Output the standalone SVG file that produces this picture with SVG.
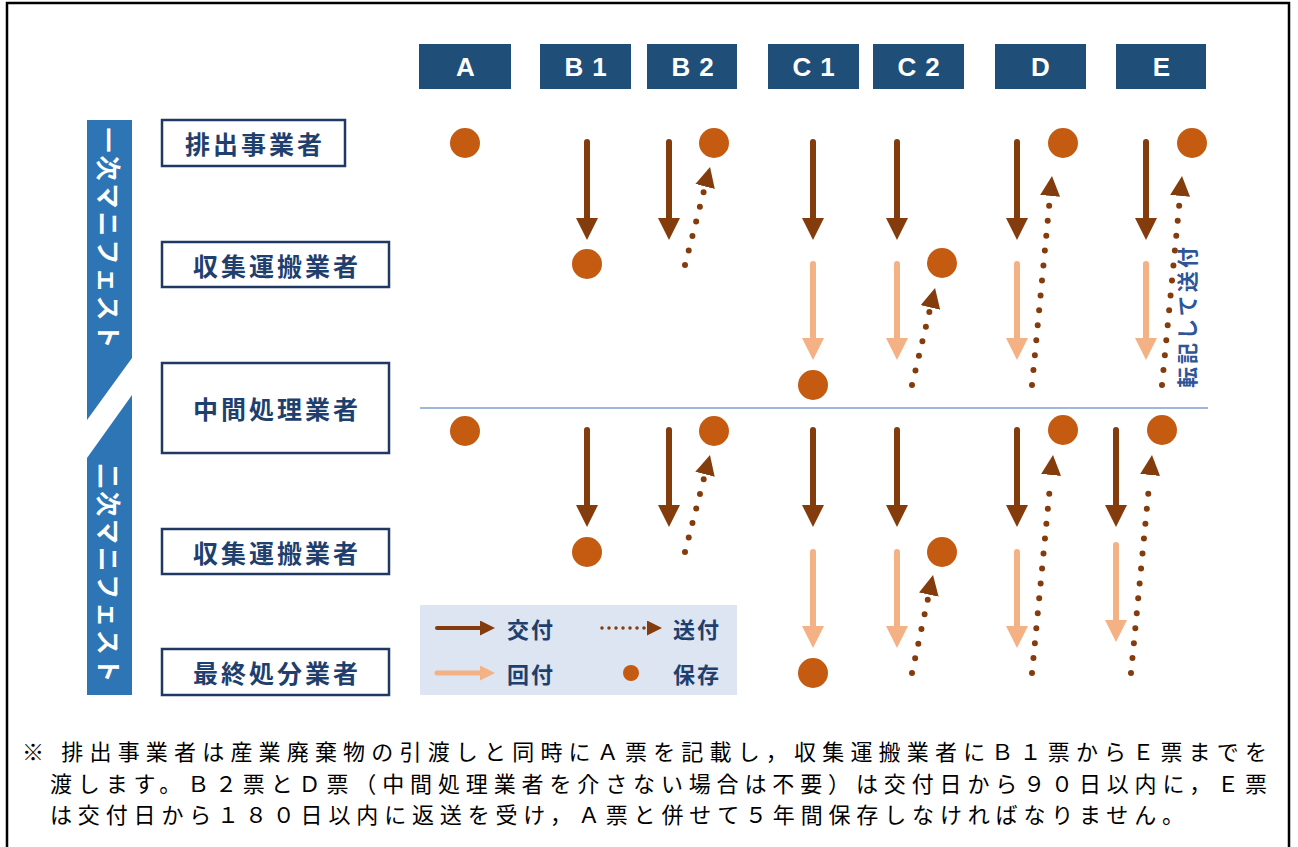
<svg xmlns="http://www.w3.org/2000/svg" width="1298" height="847" viewBox="0 0 1298 847">
<style>
.hdr{fill:#1f4e79}
.hdrt{fill:#fff;font-family:"Liberation Sans","Noto Sans CJK JP",sans-serif;font-weight:bold;font-size:26px;letter-spacing:9px}
.box{fill:#fff;stroke:#1f3864;stroke-width:2.5}
.lbl{fill:#1f3f6e;font-family:"Noto Sans CJK JP",sans-serif;font-weight:bold;font-size:25px;letter-spacing:3px}
.bar{fill:#2e75b6}
.bart{fill:#fff;font-family:"Noto Sans CJK JP",sans-serif;font-weight:bold;font-size:25px}
.dot{fill:#c55a11}
.give{stroke:#843c0c;stroke-width:6;stroke-linecap:round;fill:none}
.ret{stroke:#f4b183;stroke-width:6;stroke-linecap:round;fill:none}
.send{stroke:#843c0c;stroke-width:6;stroke-linecap:round;stroke-dasharray:0 15;fill:none}
.leg{fill:#1f3f6e;font-family:"Noto Sans CJK JP",sans-serif;font-weight:bold;font-size:22px;letter-spacing:2px}
.note{fill:#000;font-family:"Noto Sans CJK JP",sans-serif;font-size:22px}
</style>
<defs>
<marker id="mGive" markerUnits="userSpaceOnUse" viewBox="0 0 22 22" markerWidth="22" markerHeight="22" refX="0" refY="11" orient="auto"><path d="M0,0 L22,11 L0,22 z" fill="#843c0c"/></marker>
<marker id="mRet" markerUnits="userSpaceOnUse" viewBox="0 0 22 22" markerWidth="22" markerHeight="22" refX="0" refY="11" orient="auto"><path d="M0,0 L22,11 L0,22 z" fill="#f4b183"/></marker>
<marker id="mSend" markerUnits="userSpaceOnUse" viewBox="0 0 20 20" markerWidth="20" markerHeight="20" refX="-4" refY="10" orient="auto"><path d="M0,0 L20,10 L0,20 z" fill="#843c0c"/></marker>
<marker id="mGiveS" markerUnits="userSpaceOnUse" viewBox="0 0 15 15" markerWidth="15" markerHeight="15" refX="0" refY="7.5" orient="auto"><path d="M0,0 L15,7.5 L0,15 z" fill="#843c0c"/></marker>
<marker id="mRetS" markerUnits="userSpaceOnUse" viewBox="0 0 15 15" markerWidth="15" markerHeight="15" refX="0" refY="7.5" orient="auto"><path d="M0,0 L15,7.5 L0,15 z" fill="#f4b183"/></marker>
<marker id="mSendS" markerUnits="userSpaceOnUse" viewBox="0 0 15 15" markerWidth="15" markerHeight="15" refX="-2" refY="7.5" orient="auto"><path d="M0,0 L15,7.5 L0,15 z" fill="#843c0c"/></marker>
</defs>
<rect x="0" y="0" width="1298" height="847" fill="#fff"/>
<rect x="7" y="3" width="1282" height="860" fill="none" stroke="#000" stroke-width="2.5"/>

<g id="headers">
<g id="hA"><rect class="hdr" x="419" y="44" width="92" height="45"/><text class="hdrt" x="470" y="76" text-anchor="middle">A</text></g>
<g id="hB1"><rect class="hdr" x="540" y="44" width="91" height="45"/><text class="hdrt" x="590" y="76" text-anchor="middle">B1</text></g>
<g id="hB2"><rect class="hdr" x="647" y="44" width="90" height="45"/><text class="hdrt" x="697" y="76" text-anchor="middle">B2</text></g>
<g id="hC1"><rect class="hdr" x="768" y="44" width="91" height="45"/><text class="hdrt" x="818" y="76" text-anchor="middle">C1</text></g>
<g id="hC2"><rect class="hdr" x="873" y="44" width="91" height="45"/><text class="hdrt" x="923" y="76" text-anchor="middle">C2</text></g>
<g id="hD"><rect class="hdr" x="995" y="44" width="91" height="45"/><text class="hdrt" x="1045" y="76" text-anchor="middle">D</text></g>
<g id="hE"><rect class="hdr" x="1116" y="44" width="90" height="45"/><text class="hdrt" x="1166" y="76" text-anchor="middle">E</text></g>
</g>

<g id="bar1"><polygon class="bar" points="87,120 132,120 132,358 87,420"/><text class="bart" transform="translate(110,238) rotate(90)" text-anchor="middle" dominant-baseline="central" textLength="221" lengthAdjust="spacing">一次マニフェスト</text></g>
<g id="bar2"><polygon class="bar" points="132,395 132,695 87,695 87,458"/><text class="bart" transform="translate(110,573) rotate(90)" text-anchor="middle" dominant-baseline="central" textLength="219" lengthAdjust="spacing">二次マニフェスト</text></g>

<g id="r1"><rect class="box" x="162" y="120" width="183" height="46"/><text class="lbl" x="255" y="143" text-anchor="middle" dominant-baseline="central">排出事業者</text></g>
<g id="r2"><rect class="box" x="162" y="242" width="227" height="45"/><text class="lbl" x="277" y="264.5" text-anchor="middle" dominant-baseline="central">収集運搬業者</text></g>
<g id="r3"><rect class="box" x="162" y="363" width="227" height="90"/><text class="lbl" x="277" y="408" text-anchor="middle" dominant-baseline="central">中間処理業者</text></g>
<g id="r4"><rect class="box" x="162" y="529" width="227" height="45"/><text class="lbl" x="277" y="551.5" text-anchor="middle" dominant-baseline="central">収集運搬業者</text></g>
<g id="r5"><rect class="box" x="162" y="649" width="227" height="46"/><text class="lbl" x="277" y="672" text-anchor="middle" dominant-baseline="central">最終処分業者</text></g>

<line id="divider" x1="420" y1="408" x2="1208" y2="408" stroke="#7f9fd0" stroke-width="1.6"/>

<g id="storage">
<circle class="dot" cx="465" cy="143" r="15"/>
<circle class="dot" cx="587" cy="264" r="15"/>
<circle class="dot" cx="714" cy="143" r="15"/>
<circle class="dot" cx="813" cy="385" r="15"/>
<circle class="dot" cx="942" cy="263" r="15"/>
<circle class="dot" cx="1063" cy="143" r="15"/>
<circle class="dot" cx="1192" cy="143" r="15"/>
<circle class="dot" cx="465" cy="431" r="15"/>
<circle class="dot" cx="587" cy="552" r="15"/>
<circle class="dot" cx="714" cy="431" r="15"/>
<circle class="dot" cx="813" cy="673" r="15"/>
<circle class="dot" cx="942" cy="552" r="15"/>
<circle class="dot" cx="1063" cy="430" r="15"/>
<circle class="dot" cx="1162" cy="430" r="15"/>
</g>

<g id="connectors">
<line class="give" x1="587" y1="142" x2="587" y2="218" marker-end="url(#mGive)"/>
<line class="give" x1="669" y1="142" x2="669" y2="218" marker-end="url(#mGive)"/>
<line class="give" x1="813" y1="142" x2="813" y2="218" marker-end="url(#mGive)"/>
<line class="give" x1="897" y1="142" x2="897" y2="218" marker-end="url(#mGive)"/>
<line class="give" x1="1017" y1="142" x2="1017" y2="218" marker-end="url(#mGive)"/>
<line class="give" x1="1146" y1="142" x2="1146" y2="218" marker-end="url(#mGive)"/>
<line class="ret" x1="813" y1="264" x2="813" y2="338" marker-end="url(#mRet)"/>
<line class="ret" x1="897" y1="264" x2="897" y2="338" marker-end="url(#mRet)"/>
<line class="ret" x1="1017" y1="264" x2="1017" y2="338" marker-end="url(#mRet)"/>
<line class="ret" x1="1146" y1="264" x2="1146" y2="338" marker-end="url(#mRet)"/>
<line class="send" x1="685" y1="265" x2="704.1" y2="190.3" marker-end="url(#mSend)"/>
<line class="send" x1="912" y1="385" x2="929.5" y2="311.4" marker-end="url(#mSend)"/>
<line class="send" x1="1032" y1="385" x2="1049.7" y2="199.9" marker-end="url(#mSend)"/>
<line class="send" x1="1162" y1="385" x2="1179.7" y2="199.9" marker-end="url(#mSend)"/>

<line class="give" x1="587" y1="430" x2="587" y2="505" marker-end="url(#mGive)"/>
<line class="give" x1="669" y1="430" x2="669" y2="505" marker-end="url(#mGive)"/>
<line class="give" x1="813" y1="430" x2="813" y2="505" marker-end="url(#mGive)"/>
<line class="give" x1="897" y1="430" x2="897" y2="505" marker-end="url(#mGive)"/>
<line class="give" x1="1017" y1="430" x2="1017" y2="505" marker-end="url(#mGive)"/>
<line class="give" x1="1116" y1="430" x2="1116" y2="505" marker-end="url(#mGive)"/>
<line class="ret" x1="813" y1="552" x2="813" y2="626" marker-end="url(#mRet)"/>
<line class="ret" x1="897" y1="552" x2="897" y2="626" marker-end="url(#mRet)"/>
<line class="ret" x1="1017" y1="552" x2="1017" y2="626" marker-end="url(#mRet)"/>
<line class="ret" x1="1116" y1="545" x2="1116" y2="620" marker-end="url(#mRet)"/>
<line class="send" x1="685" y1="552" x2="704" y2="478.2" marker-end="url(#mSend)"/>
<line class="send" x1="912" y1="673" x2="928" y2="598.5" marker-end="url(#mSend)"/>
<line class="send" x1="1032" y1="673" x2="1050.7" y2="478.9" marker-end="url(#mSend)"/>
<line class="send" x1="1131" y1="673" x2="1149.7" y2="478.9" marker-end="url(#mSend)"/>
</g>

<text id="tenki" transform="translate(1186,317.5) rotate(-90)" text-anchor="middle" dominant-baseline="central" fill="#2f5597" font-family="Noto Sans CJK JP, sans-serif" font-weight="bold" font-size="21" textLength="141" lengthAdjust="spacing">転記して送付</text>

<g id="legend">
<rect x="420" y="605" width="317" height="90" fill="#dce5f1"/>
<line x1="437" y1="628" x2="480" y2="628" stroke="#843c0c" stroke-width="4" stroke-linecap="round" marker-end="url(#mGiveS)"/>
<text class="leg" x="507" y="628" dominant-baseline="central">交付</text>
<line x1="602" y1="628" x2="645" y2="628" stroke="#843c0c" stroke-width="3.5" stroke-linecap="round" stroke-dasharray="0 7" marker-end="url(#mSendS)"/>
<text class="leg" x="673" y="628" dominant-baseline="central">送付</text>
<line x1="437" y1="673" x2="480" y2="673" stroke="#f4b183" stroke-width="5" stroke-linecap="round" marker-end="url(#mRetS)"/>
<text class="leg" x="507" y="673" dominant-baseline="central">回付</text>
<circle class="dot" cx="631" cy="673" r="8"/>
<text class="leg" x="673" y="673" dominant-baseline="central">保存</text>
</g>

<g id="note">
<text class="note" x="22" y="750" dominant-baseline="central" textLength="1245" lengthAdjust="spacing">※ 排出事業者は産業廃棄物の引渡しと同時にＡ票を記載し，収集運搬業者にＢ１票からＥ票までを</text>
<text class="note" x="50" y="782" dominant-baseline="central" textLength="1217" lengthAdjust="spacing">渡します。Ｂ２票とＤ票（中間処理業者を介さない場合は不要）は交付日から９０日以内に，Ｅ票</text>
<text class="note" x="50" y="813" dominant-baseline="central" textLength="1134" lengthAdjust="spacing">は交付日から１８０日以内に返送を受け，Ａ票と併せて５年間保存しなければなりません。</text>
</g>
</svg>
